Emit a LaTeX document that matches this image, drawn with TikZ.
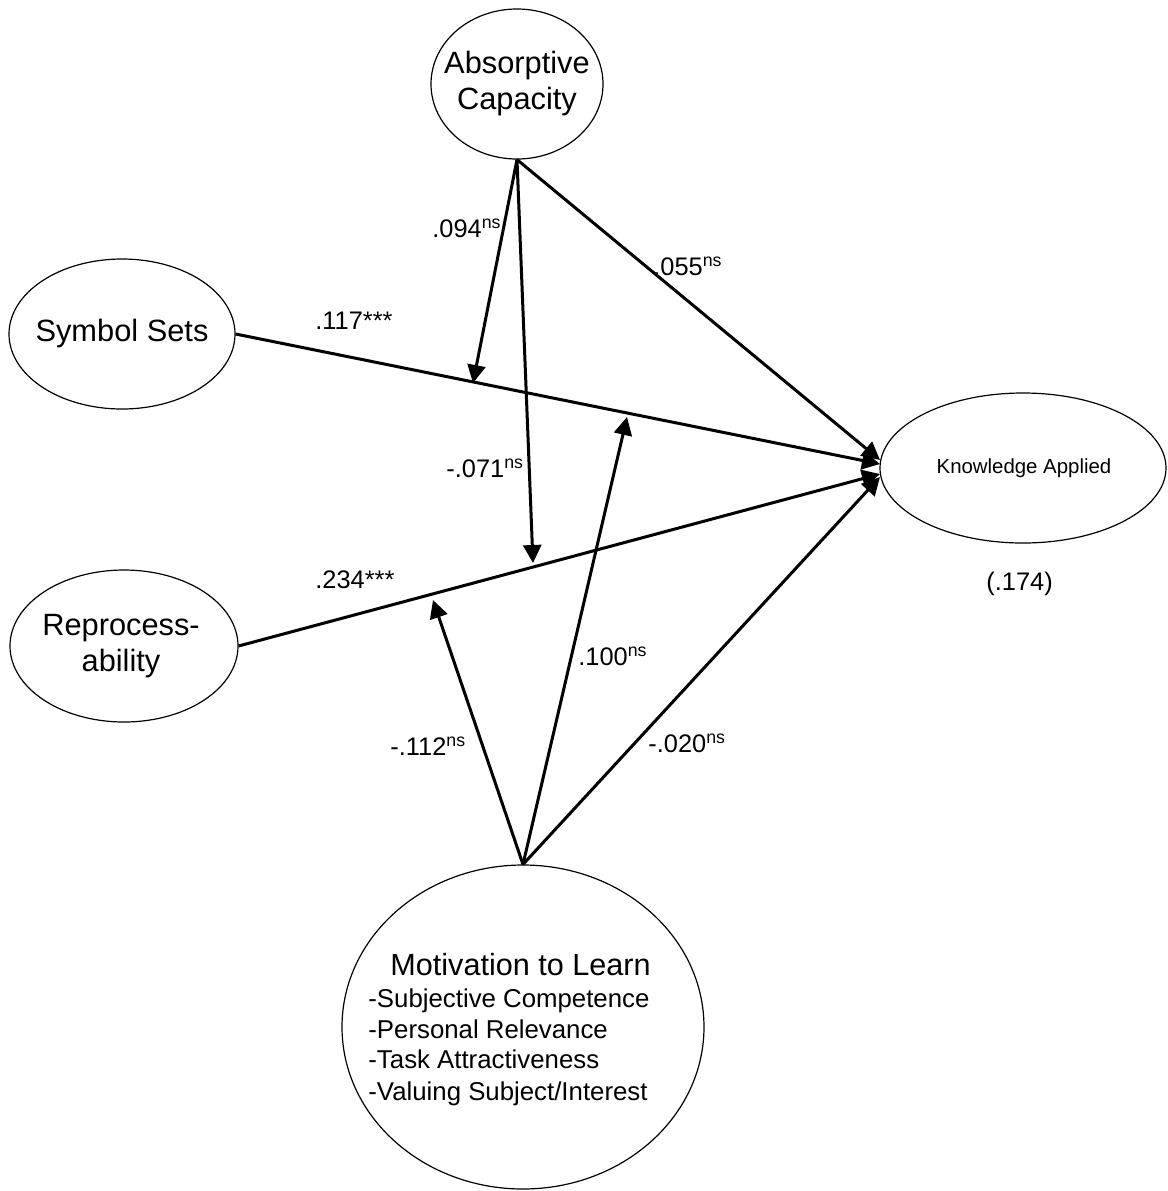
\documentclass[tikz,border=0pt]{standalone}
\usepackage{fontspec}
\setmainfont{Liberation Sans}
\usetikzlibrary{arrows.meta,shapes.geometric}
\tikzset{
  ell/.style={draw, ellipse, line width=0.6pt, inner sep=0pt},
  arr/.style={line width=1.5pt, -{Triangle[length=9pt,width=9pt]}},
  plain/.style={line width=1.5pt},
  big/.style={font=\fontsize{15.4pt}{18pt}\selectfont, align=center, inner sep=0pt},
  lab/.style={font=\fontsize{12.7pt}{15pt}\selectfont, anchor=base west, inner sep=0pt},
  item/.style={font=\fontsize{12.9pt}{15pt}\selectfont, anchor=base west, inner sep=0pt}
}
\newcommand{\nsup}{\textsuperscript{ns}}
\begin{document}
\begin{tikzpicture}[x=0.5pt,y=-0.5pt]
\useasboundingbox[fill=white] (0,0) rectangle (1168,1191);
% ellipses
\node[ell, minimum width=86pt, minimum height=75pt] (ac) at (517,84) {};
\node[ell, minimum width=113pt, minimum height=75pt] (ss) at (122,334) {};
\node[ell, minimum width=114pt, minimum height=76pt] (rp) at (124,646) {};
\node[ell, minimum width=143pt, minimum height=75pt] (ka) at (1023,468) {};
\node[ell, minimum width=181pt, minimum height=162pt] (mt) at (523,1027) {};
% texts
\node[big] (act) at (517,84) {Absorptive\\Capacity};
\node[big] (sst) at (122,334) {Symbol Sets};
\node[big] (rpt) at (121,646) {Reprocess-\\ability};
\node[font=\fontsize{10.2pt}{12pt}\selectfont, inner sep=0pt] (kat) at (1024,468) {Knowledge Applied};
\node[font=\fontsize{15.3pt}{18pt}\selectfont, anchor=base west, inner sep=0pt] (mtt) at (390,975) {Motivation to Learn};
\node[item] (mt1) at (368,1007) {-Subjective Competence};
\node[item] (mt2) at (368,1038) {-Personal Relevance};
\node[item] (mt3) at (368,1068) {-Task Attractiveness};
\node[item] (mt4) at (368,1100) {-Valuing Subject/Interest};
% arrow tips
\coordinate (t094) at (473,383);
\coordinate (t071) at (533,563);
\coordinate (t112) at (433,600);
\coordinate (t100) at (627,417);
\coordinate (kaA) at (880,460);
\coordinate (kaS) at (880,464);
\coordinate (kaR) at (880,474);
\coordinate (kaM) at (880,477);
% connectors
\draw[arr] (ac.south) -- (t094);
\draw[arr] (ac.south) -- (t071);
\draw[arr] (ac.south) -- (kaA);
\draw[arr] (ss.east) -- (kaS);
\draw[arr] (rp.east) -- (kaR);
\draw[arr] (mt.north) -- (t112);
\draw[arr] (mt.north) -- (t100);
\draw[arr] (mt.north) -- (kaM);
% labels
\node[lab] (l094) at (432,237) {.094\nsup};
\node[lab] (l055) at (653,275) {.055\nsup};
\node[lab] (l117) at (315,329) {.117***};
\node[lab] (l071) at (446,477) {-.071\nsup};
\node[lab] (l234) at (315,588) {.234***};
\node[lab] (l100) at (578,665) {.100\nsup};
\node[lab] (l112) at (390,755) {-.112\nsup};
\node[lab] (l020) at (648,752) {-.020\nsup};
\node[lab] (l174) at (986,590) {(.174)};
\end{tikzpicture}
\end{document}
